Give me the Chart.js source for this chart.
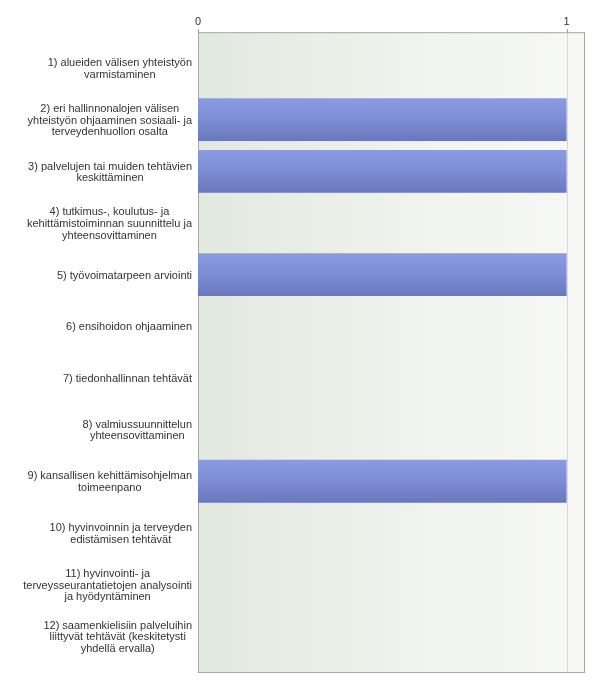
<!DOCTYPE html>
<html>
<head>
<meta charset="utf-8">
<style>
  html, body { margin: 0; padding: 0; background: #fff; }
  #wrap { width: 600px; height: 688px; position: relative; }
</style>
<script src="https://cdn.jsdelivr.net/npm/chart.js@4.4.1/dist/chart.umd.min.js"></script>
</head>
<body>
<div id="wrap"><canvas id="chart"></canvas></div>
<script>
// Data
const categories = [
  ["1) alueiden välisen yhteistyön", "varmistaminen"],
  ["2) eri hallinnonalojen välisen", "yhteistyön ohjaaminen sosiaali- ja", "terveydenhuollon osalta"],
  ["3) palvelujen tai muiden tehtävien", "keskittäminen"],
  ["4) tutkimus-, koulutus- ja", "kehittämistoiminnan suunnittelu ja", "yhteensovittaminen"],
  ["5) työvoimatarpeen arviointi"],
  ["6) ensihoidon ohjaaminen"],
  ["7) tiedonhallinnan tehtävät"],
  ["8) valmiussuunnittelun", "yhteensovittaminen"],
  ["9) kansallisen kehittämisohjelman", "toimeenpano"],
  ["10) hyvinvoinnin ja terveyden", "edistämisen tehtävät"],
  ["11) hyvinvointi- ja", "terveysseurantatietojen analysointi", "ja hyödyntäminen"],
  ["12) saamenkielisiin palveluihin", "liittyvät tehtävät (keskitetysti", "yhdellä ervalla)"],
];
const values = [0, 1, 1, 0, 1, 0, 0, 0, 1, 0, 0, 0];
const xTicks = [0, 1];
const xMax = 1.05;

const FONT = "'Liberation Sans', Arial, sans-serif";
const BAR_PCT = 0.83;

// bar fill: vertical gradient per bar, built from the y scale
function barFill(ctx) {
  const chart = ctx.chart;
  const y = chart.scales && chart.scales.y;
  if (!chart.chartArea || !y) return "#7a88cf";
  const c = y.getPixelForValue(ctx.dataIndex);
  const h = (y.height / categories.length) * BAR_PCT;
  const g = chart.ctx.createLinearGradient(0, c - h / 2, 0, c + h / 2);
  g.addColorStop(0, "#8b9be2");
  g.addColorStop(0.5, "#7d8dd3");
  g.addColorStop(1, "#6a77bb");
  return g;
}

// plot frame, gradient background, gridline and tick marks
const framePlugin = {
  id: "frame",
  beforeDatasetsDraw(chart) {
    const { ctx, chartArea: a, scales } = chart;
    const top = a.top - 10;
    const bottom = a.bottom + 11;
    ctx.save();
    const g = ctx.createLinearGradient(a.left, 0, a.right, 0);
    g.addColorStop(0, "#e2e9df");
    g.addColorStop(0.35, "#ebefe8");
    g.addColorStop(0.7, "#f3f5f1");
    g.addColorStop(1, "#f7f8f5");
    ctx.fillStyle = g;
    ctx.fillRect(a.left, top, a.right - a.left, bottom - top);

    // gridline + tick marks
    ctx.strokeStyle = "#d6d8d4";
    ctx.lineWidth = 1;
    xTicks.forEach((v) => {
      const x = Math.round(scales.x.getPixelForValue(v)) + 0.5;
      if (v !== 0) {
        ctx.beginPath();
        ctx.moveTo(x, top);
        ctx.lineTo(x, bottom);
        ctx.stroke();
      }
    });
    ctx.strokeStyle = "#9a9a9a";
    xTicks.forEach((v) => {
      const x = Math.round(scales.x.getPixelForValue(v)) + 0.5;
      ctx.beginPath();
      ctx.moveTo(x, top - 3);
      ctx.lineTo(x, top);
      ctx.stroke();
    });

    ctx.strokeStyle = "#a6a6a6";
    ctx.strokeRect(a.left + 0.5, top + 0.5, a.right - a.left - 1, bottom - top - 1);
    ctx.restore();
  },
  afterDraw(chart) {
    // category labels: block right-aligned, lines centered
    const { ctx, chartArea: a, scales } = chart;
    const lh = 11.7;
    ctx.save();
    ctx.font = "11px " + FONT;
    ctx.fillStyle = "#333";
    ctx.textAlign = "center";
    ctx.textBaseline = "middle";
    categories.forEach((lines, i) => {
      const yc = scales.y.getPixelForValue(i) + 1;
      const w = Math.max(...lines.map((l) => ctx.measureText(l).width));
      const cx = a.left - 6 - w / 2;
      const y0 = yc - ((lines.length - 1) * lh) / 2;
      lines.forEach((l, j) => ctx.fillText(l, cx, y0 + j * lh));
    });
    ctx.restore();
  },
};

new Chart(document.getElementById("chart"), {
  type: "bar",
  data: {
    labels: categories.map((c) => c.join(" ")),
    datasets: [
      {
        data: values,
        backgroundColor: barFill,
        borderWidth: 0,
        barPercentage: BAR_PCT,
        categoryPercentage: 1,
      },
    ],
  },
  options: {
    indexAxis: "y",
    responsive: true,
    maintainAspectRatio: false,
    animation: false,
    layout: { padding: { left: 198, right: 15, top: 1, bottom: 26 } },
    plugins: { legend: { display: false }, tooltip: { enabled: false } },
    scales: {
      x: {
        type: "linear",
        position: "top",
        min: 0,
        max: xMax,
        afterBuildTicks: (scale) => {
          scale.ticks = xTicks.map((v) => ({ value: v }));
        },
        grid: { display: false, drawTicks: false },
        border: { display: false },
        ticks: {
          padding: 14,
          color: "#333",
          font: { family: FONT, size: 11 },
          maxRotation: 0,
        },
      },
      y: {
        type: "category",
        display: false,
        offset: true,
      },
    },
  },
  plugins: [framePlugin],
});
</script>
</body>
</html>
